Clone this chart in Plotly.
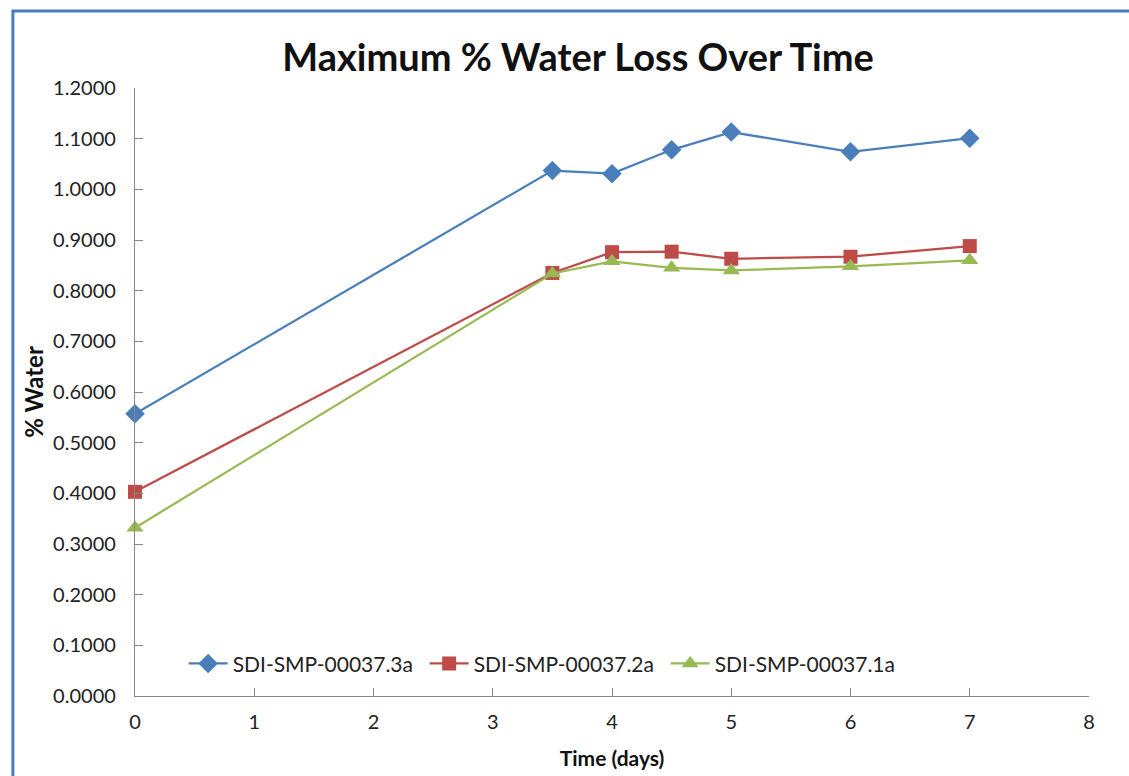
import plotly.graph_objects as go

# Sampling times (days) and maximum % water loss for each sample
days = [0, 3.5, 4, 4.5, 5, 6, 7]
sample_3a = [0.557, 1.037, 1.031, 1.078, 1.113, 1.074, 1.101]
sample_2a = [0.403, 0.835, 0.876, 0.877, 0.863, 0.867, 0.888]
sample_1a = [0.332, 0.834, 0.858, 0.845, 0.840, 0.848, 0.860]

series_names = ["SDI-SMP-00037.3a", "SDI-SMP-00037.2a", "SDI-SMP-00037.1a"]
y_ticks = [0.0, 0.1, 0.2, 0.3, 0.4, 0.5, 0.6, 0.7, 0.8, 0.9, 1.0, 1.1, 1.2]
x_ticks = [0, 1, 2, 3, 4, 5, 6, 7, 8]

FONT = "Lato, 'Open Sans', Arial, sans-serif"

styles = [
    dict(color="#4a7ebb", symbol="diamond", size=15),
    dict(color="#be4b48", symbol="square", size=14),
    dict(color="#98b954", symbol="triangle-up", size=15),
]

fig = go.Figure()
for name, ys, st in zip(series_names, [sample_3a, sample_2a, sample_1a], styles):
    fig.add_trace(go.Scatter(
        x=days, y=ys, name=name, mode="lines+markers", cliponaxis=False,
        line=dict(color=st["color"], width=2.25),
        marker=dict(color=st["color"], symbol=st["symbol"], size=st["size"]),
    ))

axis_common = dict(
    showline=True, linecolor="#868686", linewidth=1.3,
    ticks="inside", ticklen=8, tickcolor="#868686", tickwidth=1.3,
    showgrid=False, zeroline=False, automargin=False,
    tickfont=dict(family=FONT, size=20, color="#222222"),
)

fig.update_xaxes(range=[0, 8], tickvals=x_ticks, ticktext=[str(v) for v in x_ticks],
                 ticklabelstandoff=8,
                 title=dict(text="<b>Time (days)</b>", font=dict(family=FONT, size=21, color="#111111"),
                            standoff=19),
                 **axis_common)
fig.update_yaxes(range=[0, 1.2], tickvals=y_ticks, ticktext=[f"{v:.4f}" for v in y_ticks],
                 ticklabelstandoff=14,
                 title=dict(text="<b>% Water</b>", font=dict(family=FONT, size=24, color="#111111"),
                            standoff=2),
                 **axis_common)

fig.update_layout(
    width=1129, height=776,
    margin=dict(l=135, r=40, t=88, b=80),
    paper_bgcolor="white", plot_bgcolor="white",
    title=dict(text="<b>Maximum % Water Loss Over Time</b>", x=0.512, xanchor="center",
               y=0.926, yanchor="middle", font=dict(family=FONT, size=38, color="#111111")),
    legend=dict(orientation="h", x=0.051, y=0.053, xanchor="left", yanchor="middle",
                bgcolor="rgba(0,0,0,0)", itemwidth=39, entrywidth=187, entrywidthmode="pixels",
                font=dict(family=FONT, size=21, color="#222222")),
    showlegend=True,
)

# Blue frame around the chart box
fig.add_shape(type="rect", xref="paper", yref="paper",
              x0=-0.128, x1=1.2, y0=-0.3, y1=1.1266,
              line=dict(color="#4a7ebb", width=3), layer="below")

fig.write_html("out.html")
